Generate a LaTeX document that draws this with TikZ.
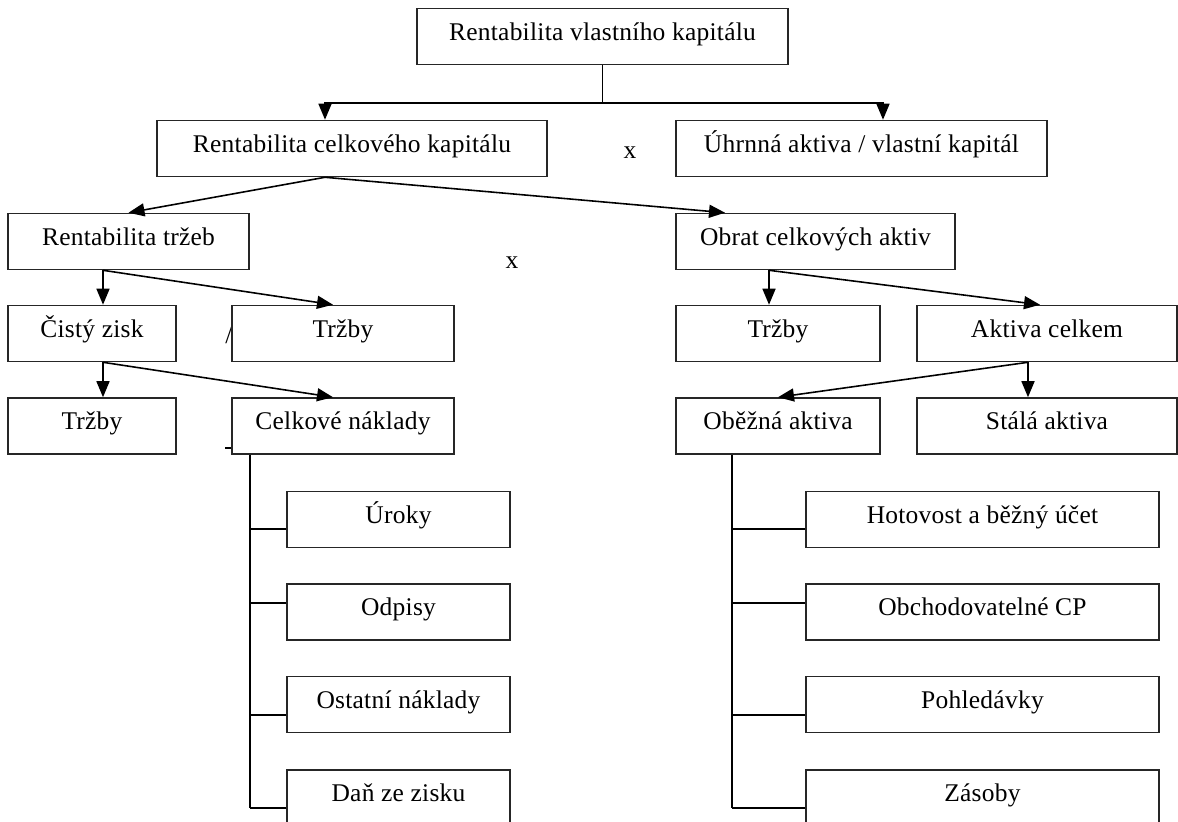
\documentclass[tikz,border=0pt]{standalone}
\usepackage{fontspec}
\setmainfont{Liberation Serif}[LetterSpace=1.0]
\usetikzlibrary{arrows.meta}
\begin{document}
\begin{tikzpicture}[x=0.02cm, y=-0.02cm,
  box/.style={draw=black!85, line width=0.9pt, fill=white, inner sep=0pt,
    minimum height=1.12cm, text height=10.6pt, text depth=6.4pt,
    font=\fontsize{14.5}{17}\selectfont},
  sign/.style={inner sep=0pt, font=\fontsize{14.5}{17}\selectfont},
  link/.style={line width=0.9pt},
  arr/.style={link, -{Triangle[length=0.32cm, width=0.26cm]}}]
\useasboundingbox (0,0) rectangle (1178,822);
\clip (0,0) rectangle (1178,822);
\node[sign] (slash) at (229,335) {/};
\node[box, minimum width=7.42cm] (rvk) at (602.5,36.5) {Rentabilita vlastního kapitálu};
\node[box, minimum width=7.8cm] (rck) at (352,148.5) {Rentabilita celkového kapitálu};
\node[box, minimum width=7.42cm] (uak) at (861.5,148.5) {Úhrnná aktiva / vlastní kapitál};
\node[box, minimum width=4.82cm] (rtr) at (128.5,241.5) {Rentabilita tržeb};
\node[box, minimum width=5.58cm] (oca) at (815.5,241.5) {Obrat celkových aktiv};
\node[box, minimum width=3.36cm] (czi) at (92,333.5) {Čistý zisk};
\node[box, minimum width=4.44cm] (trzA) at (343,333.5) {Tržby};
\node[box, minimum width=4.08cm] (trzB) at (778,333.5) {Tržby};
\node[box, minimum width=5.2cm] (akc) at (1047,333.5) {Aktiva celkem};
\node[box, minimum width=3.36cm] (trzC) at (92,426) {Tržby};
\node[box, minimum width=4.44cm] (cnk) at (343,426) {Celkové náklady};
\node[box, minimum width=4.08cm] (oba) at (778,426) {Oběžná aktiva};
\node[box, minimum width=5.2cm] (sta) at (1047,426) {Stálá aktiva};
\node[sign] (krat1) at (630,153) {x};
\node[sign] (krat2) at (512,263) {x};
\coordinate (j) at (0,103);
\coordinate (sL) at (250,0);
\coordinate (sR) at (732,0);
\draw[link] (rvk.south) -- (rvk.south |- j);
\draw[arr] (rvk.south |- j) -| ([xshift=-0.54cm]rck.north);
\draw[arr] (rvk.south |- j) -| ([xshift=0.43cm]uak.north);
\draw[arr] ([xshift=-0.54cm]rck.south) -- (rtr.north);
\draw[arr] ([xshift=-0.54cm]rck.south) -- ([xshift=-1.81cm]oca.north);
\draw[arr] ([xshift=-0.51cm]rtr.south) -- ([xshift=-0.51cm]rtr.south |- czi.north);
\draw[arr] ([xshift=-0.51cm]rtr.south) -- ([xshift=-0.2cm]trzA.north);
\draw[arr] ([xshift=0.22cm]czi.south) -- ([xshift=0.22cm]czi.south |- trzC.north);
\draw[arr] ([xshift=0.22cm]czi.south) -- ([xshift=-0.2cm]cnk.north);
\draw[arr] ([xshift=-0.93cm]oca.south) -- ([xshift=-0.93cm]oca.south |- trzB.north);
\draw[arr] ([xshift=-0.93cm]oca.south) -- ([xshift=-0.14cm]akc.north);
\draw[arr] ([xshift=-0.38cm]akc.south) -- ([xshift=-0.38cm]akc.south |- sta.north);
\draw[arr] ([xshift=-0.38cm]akc.south) -- (oba.north);
\draw[link] ([yshift=0.14cm]cnk.south west) -- ++(-6,0);
\foreach \y/\o/\n/\t in {519.5/-0.19cm/uro/Úroky, 612/0.18cm/odp/Odpisy,
    704.5/-0.21cm/ost/Ostatní náklady, 798/-0.2cm/dan/Daň ze zisku} {
  \node[box, minimum width=4.46cm] (\n) at (398.5,\y) {\t};
  \draw[link] ([yshift=\o]\n.west) -- ([yshift=\o]\n.west -| sL);
}
\draw[link] (cnk.south -| sL) -- ([yshift=-0.2cm]dan.west -| sL);
\foreach \y/\o/\n/\t in {519.5/-0.19cm/hot/Hotovost a běžný účet, 612/0.18cm/obc/Obchodovatelné CP,
    704.5/-0.21cm/poh/Pohledávky, 798/-0.2cm/zas/Zásoby} {
  \node[box, minimum width=7.06cm] (\n) at (982.5,\y) {\t};
  \draw[link] ([yshift=\o]\n.west) -- ([yshift=\o]\n.west -| sR);
}
\draw[link] (oba.south -| sR) -- ([yshift=-0.2cm]zas.west -| sR);
\end{tikzpicture}
\end{document}
